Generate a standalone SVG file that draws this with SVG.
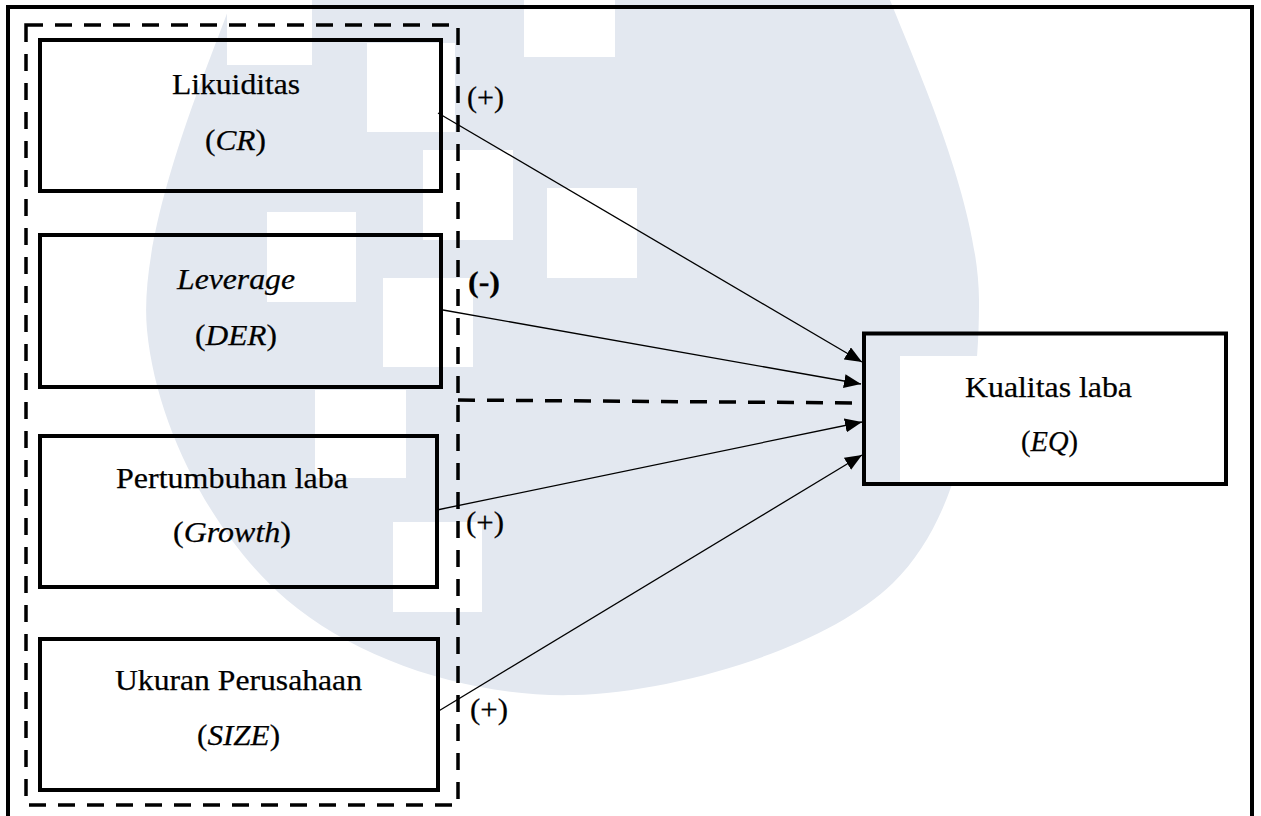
<svg xmlns="http://www.w3.org/2000/svg" width="1261" height="816" viewBox="0 0 1261 816">
  <style>
    .box { fill: none; stroke: #000; stroke-width: 4; }
    .dash { fill: none; stroke: #000; stroke-width: 3.5; stroke-dasharray: 17 12; }
    .edge { fill: none; stroke: #000; stroke-width: 1.3; marker-end: url(#arrow); }
    text { font-family: 'Liberation Serif', serif; fill: #000; stroke: #000; stroke-width: 0.25; }
    .t { font-size: 30px; }
    .sign { font-size: 29px; }
    .wm { fill: #E3E8F0; }
    .wh { fill: #FFFFFF; }
  </style>
  <defs>
    <marker id="arrow" markerUnits="userSpaceOnUse" markerWidth="17" markerHeight="14" refX="17" refY="7" orient="auto">
      <path d="M0,0 L17,7 L0,14 Z" fill="#000"/>
    </marker>
  </defs>
  <rect x="0" y="0" width="1261" height="816" fill="#FFFFFF"/>
  <g id="watermark">
    <path class="wm" d="M232,-2 L232,0 C206,71.7 137.5,230 147,330 C156.5,430 215.8,539.2 287,600 C358.2,660.8 473,697.8 574,695 C675,692.2 825.5,648.8 893,583 C960.5,517.2 979.5,397.2 979,300 C978.5,202.8 916.5,66.7 890,0 L890,-2 Z"/>
    <rect class="wh" x="227" y="0" width="85" height="65"/>
    <rect class="wh" x="524" y="0" width="91" height="57"/>
    <rect class="wh" x="367" y="43" width="88" height="89"/>
    <rect class="wh" x="423" y="150" width="90" height="90"/>
    <rect class="wh" x="547" y="188" width="90" height="90"/>
    <rect class="wh" x="267" y="212" width="89" height="90"/>
    <rect class="wh" x="383" y="278" width="90" height="89"/>
    <rect class="wh" x="315" y="390" width="91" height="88"/>
    <rect class="wh" x="393" y="522" width="89" height="90"/>
    <rect class="wh" x="900" y="356" width="90" height="126"/>
  </g>
  <g id="frame">
    <path d="M8,820 V7 H1252 V820" fill="none" stroke="#000" stroke-width="4"/>
  </g>
  <g id="group-box">
    <rect class="dash" x="26" y="25" width="432" height="780"/>
  </g>
  <g id="connectors">
    <line class="edge" x1="438" y1="113" x2="862" y2="362"/>
    <line class="edge" x1="443" y1="310" x2="861" y2="384"/>
    <line class="edge" x1="437" y1="510" x2="862" y2="422"/>
    <line class="edge" x1="437" y1="712" x2="862" y2="455"/>
    <line class="dash" x1="458" y1="400" x2="862" y2="403" stroke-width="4" stroke-dasharray="17 12.8"/>
  </g>
  <g id="node-likuiditas">
    <rect class="box" x="40" y="40" width="401" height="151"/>
    <text class="t" x="172" y="94" textLength="128" lengthAdjust="spacingAndGlyphs">Likuiditas</text>
    <text class="t" x="205" y="150" textLength="61" lengthAdjust="spacingAndGlyphs">(<tspan font-style="italic">CR</tspan>)</text>
  </g>
  <g id="node-leverage">
    <rect class="box" x="40" y="235" width="401" height="152"/>
    <text class="t" x="177" y="289" font-style="italic" textLength="118" lengthAdjust="spacingAndGlyphs">Leverage</text>
    <text class="t" x="195" y="345" textLength="82" lengthAdjust="spacingAndGlyphs">(<tspan font-style="italic">DER</tspan>)</text>
  </g>
  <g id="node-pertumbuhan">
    <rect class="box" x="40" y="436" width="397" height="151"/>
    <text class="t" x="116" y="488" textLength="232" lengthAdjust="spacingAndGlyphs">Pertumbuhan laba</text>
    <text class="t" x="173" y="542" textLength="118" lengthAdjust="spacingAndGlyphs">(<tspan font-style="italic">Growth</tspan>)</text>
  </g>
  <g id="node-ukuran">
    <rect class="box" x="40" y="639" width="398" height="151"/>
    <text class="t" x="115" y="690" textLength="247" lengthAdjust="spacingAndGlyphs">Ukuran Perusahaan</text>
    <text class="t" x="197" y="745" textLength="83" lengthAdjust="spacingAndGlyphs">(<tspan font-style="italic">SIZE</tspan>)</text>
  </g>
  <g id="node-kualitas">
    <rect class="box" x="864" y="333.5" width="362" height="150.5"/>
    <text class="t" x="965" y="397" textLength="167" lengthAdjust="spacingAndGlyphs">Kualitas laba</text>
    <text class="t" x="1021" y="451" textLength="57" lengthAdjust="spacingAndGlyphs">(<tspan font-style="italic">EQ</tspan>)</text>
  </g>
  <g id="labels">
    <text class="sign" x="467" y="107" textLength="37" lengthAdjust="spacingAndGlyphs">(+)</text>
    <text class="sign" x="468" y="292" font-weight="bold" textLength="32" lengthAdjust="spacingAndGlyphs">(-)</text>
    <text class="sign" x="466" y="532" textLength="38" lengthAdjust="spacingAndGlyphs">(+)</text>
    <text class="sign" x="470" y="719" textLength="38" lengthAdjust="spacingAndGlyphs">(+)</text>
  </g>
</svg>
